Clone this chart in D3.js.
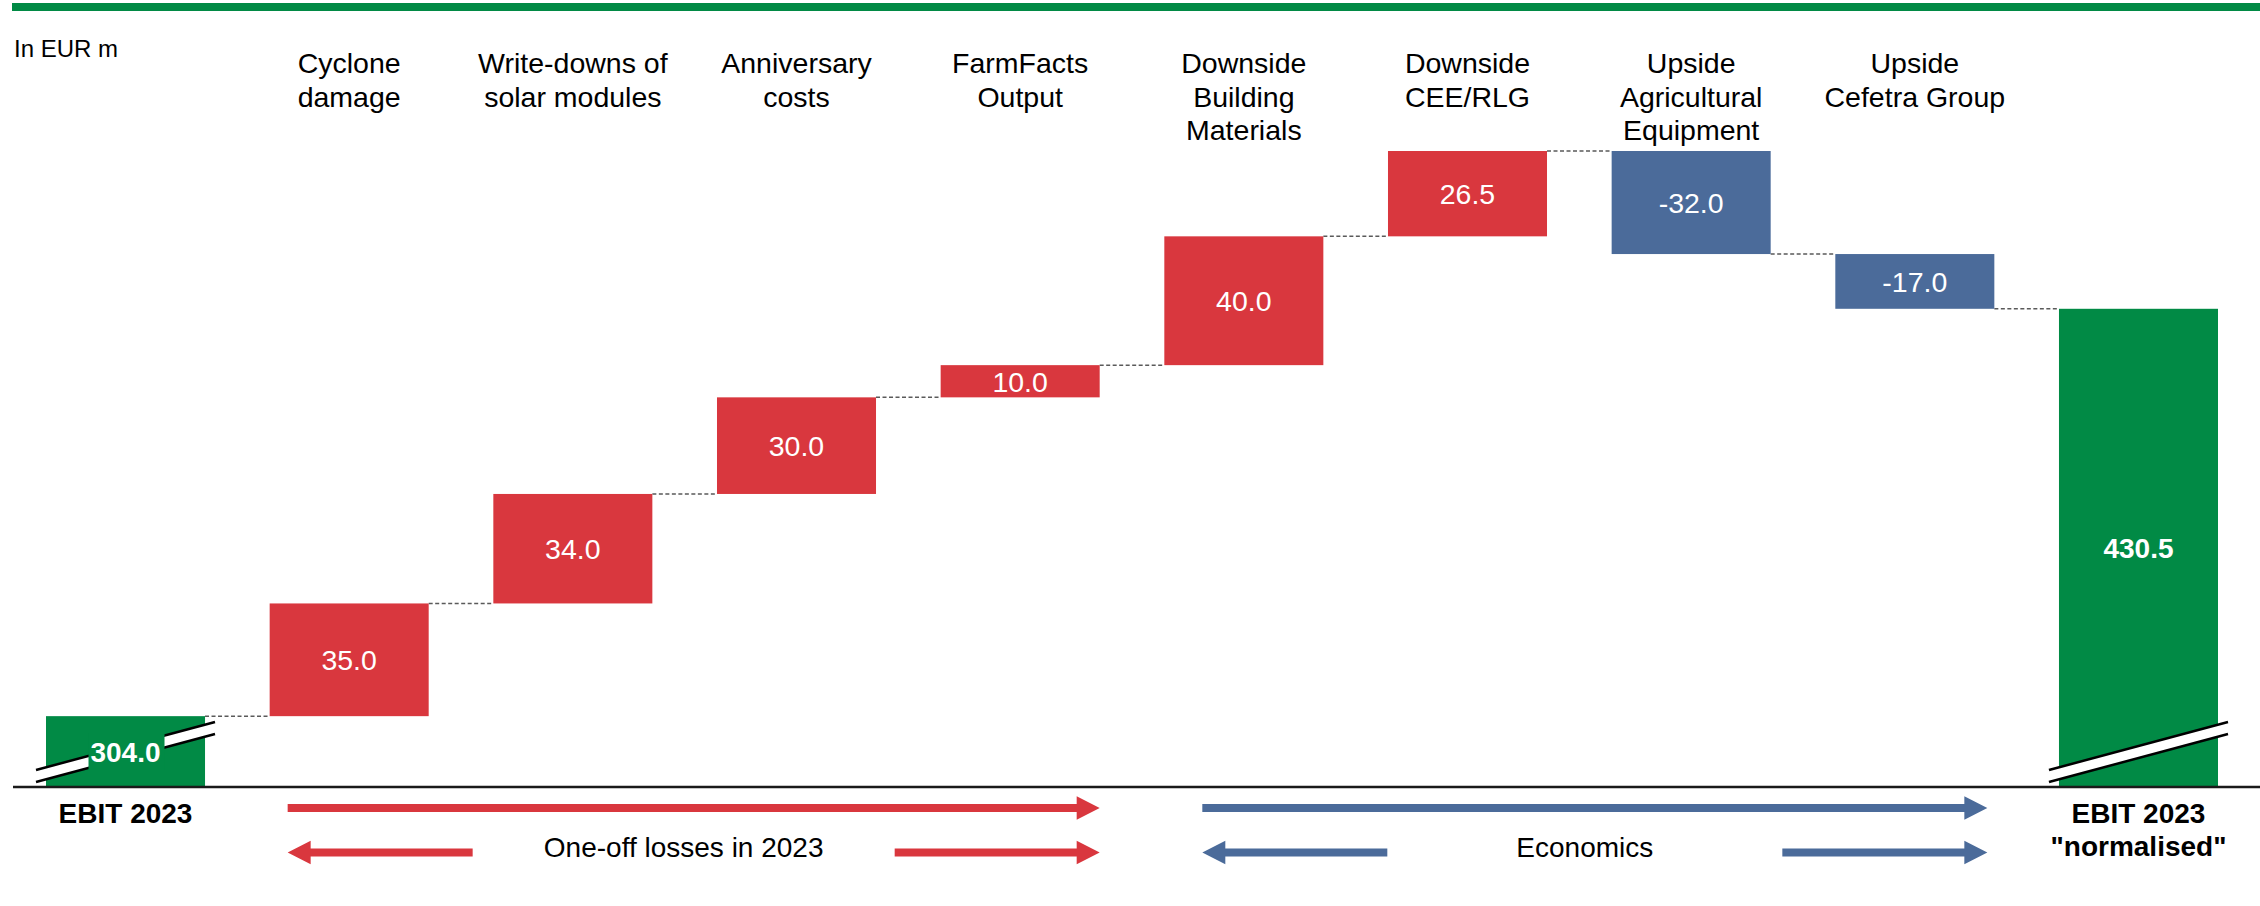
<!DOCTYPE html>
<html>
<head>
<meta charset="utf-8">
<script src="https://cdn.jsdelivr.net/npm/d3@7"></script>
<style>
  html, body { margin: 0; padding: 0; background: #fff; }
  svg { display: block; font-family: "Liberation Sans", Arial, sans-serif; }
</style>
</head>
<body>
<svg id="chart" width="2260" height="906"></svg>
<script>
// EBIT bridge 2023 -> 2023 "normalised", EUR m
const categories = [
  "EBIT 2023",
  "Cyclone damage",
  "Write-downs of solar modules",
  "Anniversary costs",
  "FarmFacts Output",
  "Downside Building Materials",
  "Downside CEE/RLG",
  "Upside Agricultural Equipment",
  "Upside Cefetra Group",
  "EBIT 2023 \"normalised\""
];
// how each category label wraps
const headerLines = [
  [],
  ["Cyclone", "damage"],
  ["Write-downs of", "solar modules"],
  ["Anniversary", "costs"],
  ["FarmFacts", "Output"],
  ["Downside", "Building", "Materials"],
  ["Downside", "CEE/RLG"],
  ["Upside", "Agricultural", "Equipment"],
  ["Upside", "Cefetra Group"],
  []
];
const footerLines = [
  ["EBIT 2023"],
  [], [], [], [], [], [], [], [],
  ["EBIT 2023", "\"normalised\""]
];
const values = [304.0, 35.0, 34.0, 30.0, 10.0, 40.0, 26.5, -32.0, -17.0, 430.5];
const isTotal = [true, false, false, false, false, false, false, false, false, true];
const groups = [
  { name: "One-off losses in 2023", from: 1, to: 4, kind: "oneoff" },
  { name: "Economics",              from: 5, to: 8, kind: "econ" }
];
const axisFloor = 282;   // value at the (broken) baseline
const unitLabel = "In EUR m";

const colors = { total: "#018A45", up: "#D9373E", down: "#4B6B9A", oneoff: "#D9373E", econ: "#4B6B9A" };

// running totals -> floating bar extents
let running = 0;
const bars = values.map((v, i) => {
  let lo, hi, kind;
  if (isTotal[i]) {
    lo = axisFloor; hi = v; running = v; kind = "total";
  } else {
    const start = running;
    running += v;
    lo = Math.min(start, running); hi = Math.max(start, running);
    kind = v >= 0 ? "up" : "down";
  }
  return { i, cat: categories[i], value: v, kind, lo, hi, level: running };
});

const svg = d3.select("#chart");
const W = 2260, baseY = 787;

const x = d3.scaleBand().domain(categories).range([46, 2218]).paddingInner(0.289).paddingOuter(0);
const y = d3.scaleLinear().domain([axisFloor, d3.max(bars, d => d.hi)]).range([baseY, 151]);
const bw = x.bandwidth();

// green rule along the top
svg.append("rect").attr("x", 12).attr("y", 3).attr("width", W - 12).attr("height", 8).attr("fill", colors.total);

svg.append("text").attr("x", 14).attr("y", 57).attr("font-size", 24).attr("fill", "#000").text(unitLabel);

// dashed connectors between consecutive bars
const conn = svg.append("g").attr("stroke", "#5a5a5a").attr("stroke-width", 1.5).attr("stroke-dasharray", "4,2.5");
bars.slice(0, -1).forEach((b, i) => {
  const yy = y(b.level);
  conn.append("line")
    .attr("x1", x(b.cat) + bw).attr("x2", x(categories[i + 1]))
    .attr("y1", yy).attr("y2", yy);
});

// bars
svg.append("g").selectAll("rect").data(bars).join("rect")
  .attr("x", d => x(d.cat))
  .attr("y", d => y(d.hi))
  .attr("width", bw)
  .attr("height", d => y(d.lo) - y(d.hi))
  .attr("fill", d => colors[d.kind]);

// axis-break marks on the total bars
bars.filter(d => d.kind === "total").forEach(d => {
  const x0 = x(d.cat) - 10, x1 = x(d.cat) + bw + 10;
  const g = svg.append("g");
  g.append("polygon")
    .attr("points", [[x0, baseY - 17], [x1, baseY - 65], [x1, baseY - 53], [x0, baseY - 5]].map(p => p.join(",")).join(" "))
    .attr("fill", "#fff");
  g.append("line").attr("x1", x0).attr("y1", baseY - 17).attr("x2", x1).attr("y2", baseY - 65)
    .attr("stroke", "#000").attr("stroke-width", 2.5);
  g.append("line").attr("x1", x0).attr("y1", baseY - 5).attr("x2", x1).attr("y2", baseY - 53)
    .attr("stroke", "#000").attr("stroke-width", 2.5);
});

// baseline
svg.append("line").attr("x1", 13).attr("x2", W).attr("y1", baseY).attr("y2", baseY)
  .attr("stroke", "#1a1a1a").attr("stroke-width", 2.5);

// value labels (plain hyphen for negatives)
const fmt = v => d3.format(".1f")(v).replace("\u2212", "-");
bars.forEach(d => {
  const cx = x(d.cat) + bw / 2;
  if (d.kind === "total") {
    // opening total sits low in the bar, on a patch that interrupts the break mark
    const cy = d.i === 0 ? 752 : (y(d.hi) + y(d.lo)) / 2;
    if (d.i === 0) {
      svg.append("rect").attr("x", cx - 37).attr("y", 733).attr("width", 76).attr("height", 37)
        .attr("fill", colors.total);
    }
    svg.append("text").attr("x", cx).attr("y", cy).attr("dy", "0.36em")
      .attr("text-anchor", "middle").attr("font-size", 28).attr("font-weight", "bold")
      .attr("fill", "#fff").text(fmt(d.value));
  } else {
    svg.append("text").attr("x", cx).attr("y", (y(d.hi) + y(d.lo)) / 2).attr("dy", "0.36em")
      .attr("text-anchor", "middle").attr("font-size", 28.5).attr("fill", "#fff").text(fmt(d.value));
  }
});

// category headers above the bars
bars.forEach(d => {
  const t = svg.append("text").attr("text-anchor", "middle").attr("font-size", 28.5).attr("fill", "#000");
  headerLines[d.i].forEach((ln, k) => {
    t.append("tspan").attr("x", x(d.cat) + bw / 2).attr("y", 73 + k * 33.5).text(ln);
  });
});

// total labels below the baseline
bars.forEach(d => {
  if (!footerLines[d.i].length) return;
  const t = svg.append("text").attr("text-anchor", "middle").attr("font-size", 28)
    .attr("font-weight", "bold").attr("fill", "#000");
  footerLines[d.i].forEach((ln, k) => {
    t.append("tspan").attr("x", x(d.cat) + bw / 2).attr("y", 823 + k * 32.5).text(ln);
  });
});

// block arrows marking the two groups
function arrow(xFrom, xTo, yc, fill) {
  const dir = Math.sign(xTo - xFrom), hl = 23, hh = 11.7, st = 4;
  const xb = xTo - dir * hl;
  const pts = [[xFrom, yc - st], [xb, yc - st], [xb, yc - hh], [xTo, yc], [xb, yc + hh], [xb, yc + st], [xFrom, yc + st]];
  svg.append("polygon").attr("points", pts.map(p => p.join(",")).join(" ")).attr("fill", fill);
}
const row1 = 808, row2 = 852.5;
groups.forEach(gr => {
  const fill = colors[gr.kind];
  const left = x(categories[gr.from]) + (gr.kind === "oneoff" ? 18 : 38);
  const right = x(categories[gr.to]) + bw - (gr.kind === "oneoff" ? 0 : 7);
  arrow(left, right, row1, fill);
  // short arrows either side of the group caption
  const tailL = left + 185, tailR = right - 205;
  arrow(tailL, left, row2, fill);
  arrow(tailR, right, row2, fill);
  svg.append("text").attr("x", (tailL + tailR) / 2).attr("y", 857).attr("text-anchor", "middle")
    .attr("font-size", 28).attr("fill", "#000").text(gr.name);
});
</script>
</body>
</html>
